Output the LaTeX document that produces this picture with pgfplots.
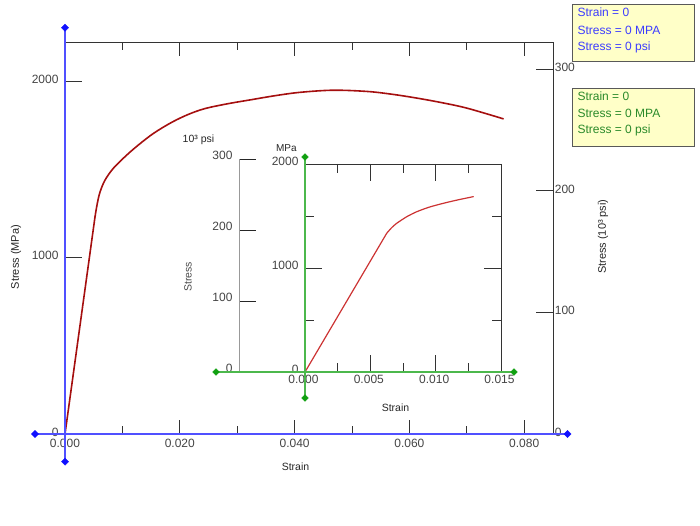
\documentclass[border=0pt]{standalone}
\usepackage{fontspec}
\setmainfont{Liberation Sans}
\usepackage{pgfplots}
\pgfplotsset{compat=1.18}
\definecolor{axisgray}{HTML}{333333}
\definecolor{labgray}{HTML}{444444}
\definecolor{mainred}{HTML}{A50F0F}
\definecolor{insetred}{HTML}{CC3333}
\definecolor{bluel}{HTML}{5050FF}
\definecolor{blued}{HTML}{1010FF}
\definecolor{greenl}{HTML}{4CB84C}
\definecolor{greend}{HTML}{10A010}
\definecolor{boxfill}{HTML}{FFFFC8}
\definecolor{txtblue}{HTML}{3C3CFF}
\definecolor{txtgreen}{HTML}{2A8A2A}
\newcommand{\fs}[1]{\fontsize{#1}{#1}\selectfont}
\pgfplotsset{
  common/.style={
    scale only axis, clip=false,
    scaled x ticks=false, scaled y ticks=false,
    /pgf/number format/assume math mode=true,
    tick label style={font=\fs{12}, text=labgray},
    axis line style={axisgray, line width=0.9pt},
    tick style={axisgray, line width=0.9pt},
    tick align=inside,
  }
}
% elastic (linear) part and plastic part of the main curve
\pgfplotstableread{
x y
0 0
0.00523 1232
}\mainlin
\pgfplotstableread{
x y
0.00523 1232
0.00563 1308
0.00610 1372
0.00697 1440
0.00842 1507
0.01075 1582
0.01300 1645
0.01550 1707
0.01860 1768
0.02150 1813
0.02440 1846
0.02830 1873
0.03224 1895
0.03660 1919
0.04096 1938
0.04671 1950
0.05264 1943
0.05700 1927
0.06135 1905
0.06570 1879
0.07006 1848
0.07634 1788
}\mainplast
\pgfplotstableread{
x y
0 0
0.006253 1334
}\insetlin
\pgfplotstableread{
x y
0.006253 1334
0.006635 1388
0.007018 1430
0.007783 1493
0.008548 1541
0.009500 1585
0.010584 1622
0.011700 1655
0.012880 1686
}\insetplast
\begin{document}
\begin{tikzpicture}[x=1pt,y=1pt]
\path[use as bounding box] (0,0) rectangle (700,525);
% right ksi axis (main)
\begin{axis}[common, at={(65pt,91pt)}, anchor=south west, width=488.3pt, height=391.7pt,
  xmin=0, xmax=0.08507, ymin=0, ymax=322.25,
  hide x axis, axis y line*=right,
  ytick={0,100,200,300}, major tick length=17pt,
  yticklabel style={yshift=2pt, xshift=-2pt}]
\end{axis}
% left MPa axis (main)
\begin{axis}[common, at={(65pt,91pt)}, anchor=south west, width=488.3pt, height=391.7pt,
  xmin=0, xmax=0.08507, ymin=0, ymax=2221.8,
  hide x axis, axis y line*=left,
  ytick={0,1000,2000}, yticklabels={0,1000,2000}, major tick length=17pt,
  yticklabel style={yshift=2pt, xshift=-3pt}]
\end{axis}
% main frame, curve
\begin{axis}[common, at={(65pt,91pt)}, anchor=south west, width=488.3pt, height=391.7pt,
  xmin=0, xmax=0.08507, ymin=0, ymax=2221.8,
  xtick={0,0.02,0.04,0.06,0.08}, xticklabels={0.000,0.020,0.040,0.060,0.080},
  minor xtick={0.01,0.03,0.05,0.07}, ytick=\empty,
  xtick pos=both, xticklabel pos=lower,
  xticklabel style={yshift=-2pt},
  major tick length=14pt, minor tick length=8pt]
\addplot[mainred, line width=1.6pt, line cap=round] table[x=x,y=y]{\mainlin};
\addplot[mainred, line width=1.6pt, line cap=round, smooth, tension=0.55] table[x=x,y=y]{\mainplast};
\addplot[bluel, line width=1.1pt] coordinates {(-0.005229,0) (0.08755,0)};
\addplot[bluel, line width=1.1pt] coordinates {(0,2304.6) (0,-157)};
\addplot[blued, only marks, mark=square*, mark options={rotate=45}, mark size=2.5pt] coordinates {(-0.005229,0) (0.08755,0) (0,2304.6) (0,-157)};
\end{axis}
% inset psi axis
\begin{axis}[common, at={(239pt,153pt)}, anchor=south west, width=20pt, height=213pt,
  xmin=0, xmax=1, ymin=0, ymax=300,
  hide x axis, axis y line*=left, y axis line style={draw=gray!80},
  ytick={0,100,200,300}, major tick length=16.7pt,
  tick style={black!85, line width=0.9pt},
  yticklabel style={yshift=4pt, xshift=-3pt}]
\end{axis}
% inset MPa axis
\begin{axis}[common, at={(305pt,153pt)}, anchor=south west, width=196pt, height=208pt,
  xmin=0, xmax=0.015, ymin=0, ymax=2000,
  xtick={0,0.005,0.01,0.015}, xticklabels={0.000,0.005,0.010,0.015},
  minor xtick={0.0025,0.0075,0.0125},
  ytick={0,1000,2000}, yticklabels={0,1000,2000}, minor ytick={500,1500},
  xtick pos=both, ytick pos=both, xticklabel pos=lower, yticklabel pos=left,
  major tick length=17pt, minor tick length=9pt,
  xticklabel style={yshift=0pt, xshift=-1.5pt},
  yticklabel style={yshift=3pt, xshift=-3pt}]
\addplot[insetred, line width=1.2pt, line cap=round] table[x=x,y=y]{\insetlin};
\addplot[insetred, line width=1.2pt, line cap=round, smooth, tension=0.4] table[x=x,y=y]{\insetplast};
\addplot[greenl, line width=1.1pt] coordinates {(-0.006811,0) (0.015995,0)};
\addplot[greenl, line width=1.1pt] coordinates {(0,2067) (0,-250)};
\addplot[greend, only marks, mark=square*, mark options={rotate=45}, mark size=2.4pt] coordinates {(-0.006811,0) (0.015995,0) (0,2067) (0,-250)};
\end{axis}
% axis titles
\node[font=\fs{10.5}, text=black!85] at (295.5,58.3) {Strain};
\node[font=\fs{11}, text=black!85, rotate=90] at (16,268) {Stress (MPa)};
\node[font=\fs{11}, text=black!85, rotate=90] at (603,288.3) {Stress (10³ psi)};
\node[font=\fs{10.5}, text=black!85] at (395.5,117) {Strain};
\node[font=\fs{10.5}, text=black!70, rotate=90] at (188,248) {Stress};
\node[font=\fs{10.5}, text=black!85] at (198.5,385.5) {10³ psi};
\node[font=\fs{10}, text=black!85] at (286.3,376.7) {MPa};
% info boxes
\draw[fill=boxfill, draw=black!65, line width=0.9pt] (572.3,520.7) rectangle (694.3,463.3);
\draw[fill=boxfill, draw=black!65, line width=0.9pt] (572.3,436.7) rectangle (694.3,379);
\begin{scope}[every node/.style={anchor=west, inner sep=0pt, font=\fs{12}}]
\node[text=txtblue] at (577.3,512.3) {Strain = 0};
\node[text=txtblue] at (577.3,495) {Stress = 0 MPA};
\node[text=txtblue] at (577.3,477.7) {Stress = 0 psi};
\node[text=txtgreen] at (577.3,428.3) {Strain = 0};
\node[text=txtgreen] at (577.3,411.7) {Stress = 0 MPA};
\node[text=txtgreen] at (577.3,394.3) {Stress = 0 psi};
\end{scope}
\end{tikzpicture}
\end{document}
